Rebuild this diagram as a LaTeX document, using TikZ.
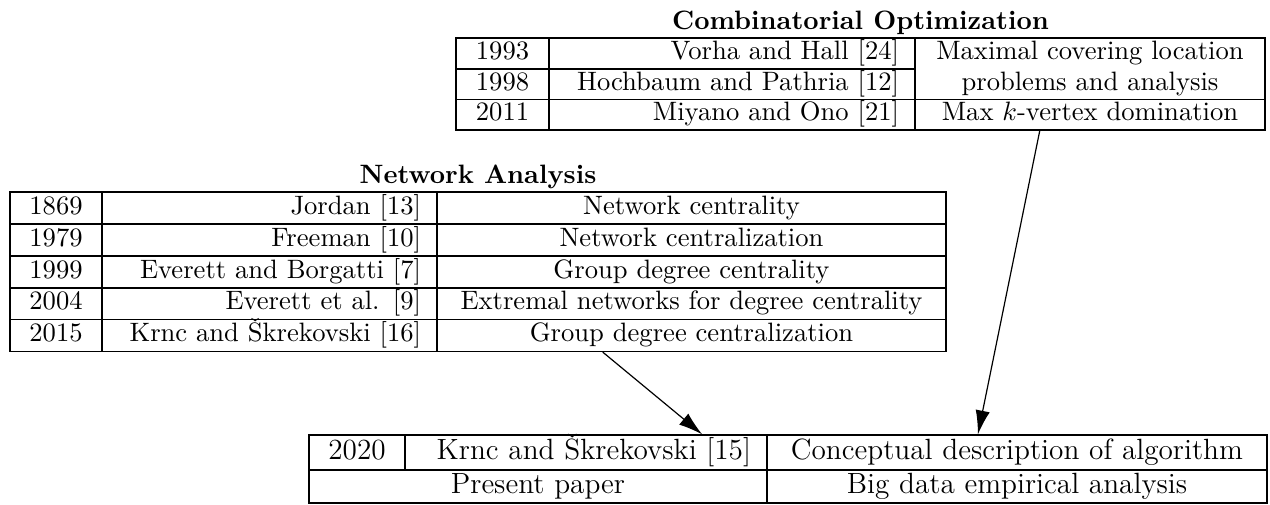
\documentclass[tikz,border=0pt]{standalone}
\usetikzlibrary{calc,arrows.meta}
% one table cell: name, left, top, right, bottom (picture units), extra style, text
\newcommand\tcell[7]{%
  \pgfmathsetmacro\cellw{(#4-#2)*0.37594}%
  \pgfmathsetmacro\cellh{(#5-#3)*0.37594}%
  \pgfmathsetmacro\celltw{(#4-#2)*0.37594-12}%
  \node[cellbox,#6,minimum width=\cellw pt,minimum height=\cellh pt,
        text width=\celltw pt] (#1) at ({(#2+#4)/2},{(#3+#5)/2}) {\mbox{#7}};}
\begin{document}
\begin{tikzpicture}[x=0.37594pt,y=-0.37594pt,
  cellbox/.style={draw,line width=0.45pt,inner xsep=6pt,inner ysep=0pt},
  row/.style={text height=7.9pt,text depth=3.3pt},
  bigrow/.style={font=\fontsize{11}{13.6}\selectfont,text height=8.6pt,text depth=3.4pt},
  title/.style={font=\bfseries,inner sep=0pt,anchor=base},
  link/.style={line width=0.45pt,-{Latex[length=9pt,width=5.4pt]}}]
\useasboundingbox (0,0) rectangle (1270,504);

% Combinatorial Optimization
\node[title] (cotitle) at (860.5,29) {Combinatorial Optimization};
\tcell{co-1-1}{456}{38}{549}{69}{row,align=center}{1993}
\tcell{co-1-2}{549}{38}{915}{69}{row,align=right}{Vorha and Hall [24]}
\tcell{co-2-1}{456}{69}{549}{99.5}{row,align=center}{1998}
\tcell{co-2-2}{549}{69}{915}{99.5}{row,align=right}{Hochbaum and Pathria [12]}
\node[cellbox,align=center,minimum width=131.58pt,minimum height=23.12pt,
      text width=119.58pt] (co-12-3) at (1090,68.75)
      {Maximal covering location\\[-0.5pt]problems and analysis};
\tcell{co-3-1}{456}{99.5}{549}{130}{row,align=center}{2011}
\tcell{co-3-2}{549}{99.5}{915}{130}{row,align=right}{Miyano and Ono [21]}
\tcell{co-3-3}{915}{99.5}{1265}{130}{row,align=center}{Max $k$-vertex domination}

% Network Analysis
\node[title] (natitle) at (478,183) {Network Analysis};
\tcell{na-1-1}{10}{192}{102}{224}{row,align=center}{1869}
\tcell{na-1-2}{102}{192}{437}{224}{row,align=right}{Jordan [13]}
\tcell{na-1-3}{437}{192}{946}{224}{row,align=center}{Network centrality}
\tcell{na-2-1}{10}{224}{102}{256}{row,align=center}{1979}
\tcell{na-2-2}{102}{224}{437}{256}{row,align=right}{Freeman [10]}
\tcell{na-2-3}{437}{224}{946}{256}{row,align=center}{Network centralization}
\tcell{na-3-1}{10}{256}{102}{288}{row,align=center}{1999}
\tcell{na-3-2}{102}{256}{437}{288}{row,align=right}{Everett and Borgatti [7]}
\tcell{na-3-3}{437}{256}{946}{288}{row,align=center}{Group degree centrality}
\tcell{na-4-1}{10}{288}{102}{319.5}{row,align=center}{2004}
\tcell{na-4-2}{102}{288}{437}{319.5}{row,align=right}{Everett et al. [9]}
\tcell{na-4-3}{437}{288}{946}{319.5}{row,align=center}{Extremal networks for degree centrality}
\tcell{na-5-1}{10}{319.5}{102}{351.5}{row,align=center}{2015}
\tcell{na-5-2}{102}{319.5}{437}{351.5}{row,align=right}{Krnc and Škrekovski [16]}
\tcell{na-5-3}{437}{319.5}{946}{351.5}{row,align=center}{Group degree centralization}

% Present work
\tcell{pr-1-1}{309}{435}{405}{470}{bigrow,align=center}{2020}
\tcell{pr-1-2}{405}{435}{767}{470}{bigrow,align=right}{Krnc and Škrekovski [15]}
\tcell{pr-1-3}{767}{435}{1267}{470}{bigrow,align=center}{Conceptual description of algorithm}
\tcell{pr-2-12}{309}{470}{767}{503}{bigrow,align=center}{Present paper}
\tcell{pr-2-3}{767}{470}{1267}{503}{bigrow,align=center}{Big data empirical analysis}

% influences
\draw[link] ($(na-5-3.south west)!0.326!(na-5-3.south east)$)
         -- ($(pr-1-2.north west)!0.82!(pr-1-2.north east)$);
\draw[link] ($(co-3-3.south west)!0.357!(co-3-3.south east)$)
         -- ($(pr-1-3.north west)!0.422!(pr-1-3.north east)$);
\end{tikzpicture}
\end{document}
